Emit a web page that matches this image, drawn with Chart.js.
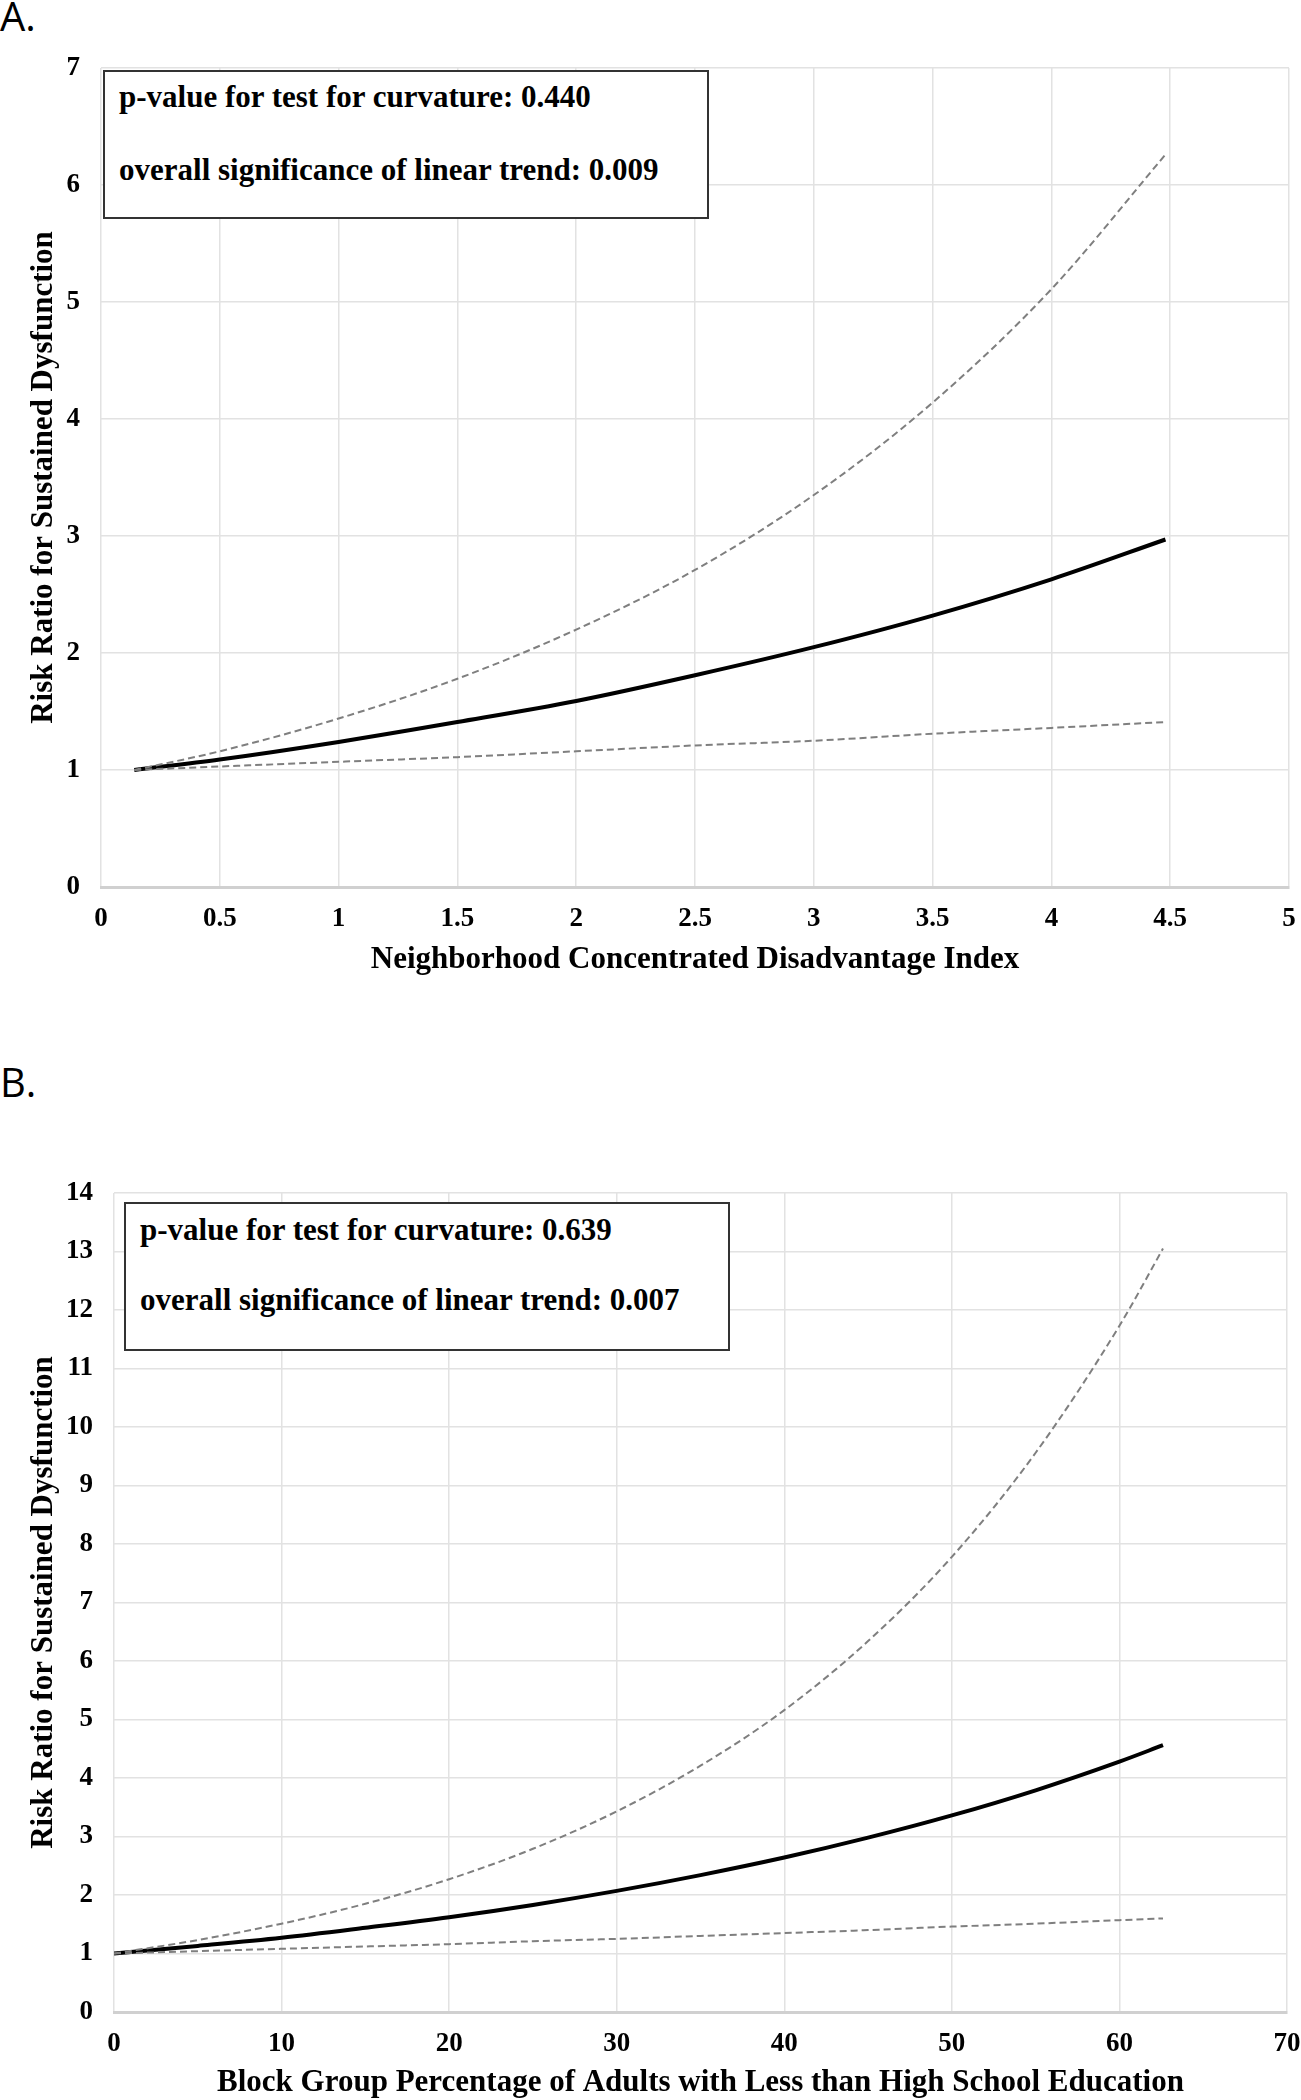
<!DOCTYPE html>
<html>
<head>
<meta charset="utf-8">
<script src="https://cdn.jsdelivr.net/npm/chart.js@4.4.1/dist/chart.umd.min.js"></script>
<style>
  body { margin: 0; background: #fff; }
  #page { position: relative; width: 1301px; height: 2100px; overflow: hidden; }
  canvas { position: absolute; left: 0; }
  .tag { position: absolute; left: 0; font-family: "Open Sans", sans-serif; font-size: 40px; line-height: 1; color: #000; }
  .note { position: absolute; box-sizing: border-box; background: #fff; border: 2px solid #333; }
  .note span { position: absolute; white-space: nowrap; font-family: "Liberation Serif", serif; font-weight: bold; font-size: 31px; line-height: 1; color: #000; }
</style>
</head>
<body>
<div id="page">
  <div class="tag" style="top:-4px">A.</div>
  <canvas id="chartA" width="1301" height="1000" style="top:0"></canvas>
  <div class="note" style="left:103px;top:70px;width:606px;height:149px">
    <span style="left:14px;top:9px">p-value for test for curvature: 0.440</span>
    <span style="left:14px;top:82px">overall significance of linear trend: 0.009</span>
  </div>

  <div class="tag" style="top:1062px">B.</div>
  <canvas id="chartB" width="1301" height="1000" style="top:1100px"></canvas>
  <div class="note" style="left:124px;top:1202px;width:606px;height:149px">
    <span style="left:14px;top:10px">p-value for test for curvature: 0.639</span>
    <span style="left:14px;top:80px">overall significance of linear trend: 0.007</span>
  </div>
</div>

<script>
// Panel A: neighborhood concentrated disadvantage index
const aIndex = [0.14, 0.5, 1, 1.5, 2, 2.5, 3, 3.5, 4, 4.48];
const aRisk  = [1.00, 1.09, 1.24, 1.41, 1.59, 1.81, 2.05, 2.32, 2.63, 2.97];
const aUpper = [1.00, 1.16, 1.44, 1.78, 2.20, 2.71, 3.35, 4.14, 5.11, 6.26];
const aLower = [1.00, 1.03, 1.07, 1.11, 1.16, 1.21, 1.25, 1.31, 1.36, 1.41];

// Panel B: % adults with less than high school education
const bPct   = [0, 5, 10, 15, 20, 25, 30, 35, 40, 45, 50, 55, 60, 62.6];
const bRisk  = [1.00, 1.13, 1.27, 1.44, 1.62, 1.83, 2.07, 2.34, 2.64, 2.98, 3.36, 3.79, 4.28, 4.56];
const bUpper = [1.00, 1.23, 1.51, 1.85, 2.27, 2.79, 3.43, 4.21, 5.16, 6.34, 7.78, 9.56, 11.73, 13.05];
const bLower = [1.00, 1.04, 1.08, 1.12, 1.16, 1.21, 1.25, 1.30, 1.35, 1.40, 1.46, 1.51, 1.57, 1.60];

const yTitle = "Risk Ratio for Sustained Dysfunction";

Chart.defaults.font.family = "'Liberation Serif', 'Times New Roman', serif";
Chart.defaults.font.weight = "bold";
Chart.defaults.color = "#000";

const pts = (xs, ys) => xs.map((x, i) => ({ x, y: ys[i] }));

function dashed(data) {
    return {
        data,
        borderColor: "#7f7f7f",
        borderWidth: 2,
        borderDash: [7, 4],
        pointRadius: 0,
        cubicInterpolationMode: "monotone"
    };
}

function drawPanel(id, cfg) {
    // eslint-disable-next-line no-new
    new Chart(document.getElementById(id), {
        type: "line",
        data: {
            datasets: [
                dashed(pts(cfg.xs, cfg.upper)),
                dashed(pts(cfg.xs, cfg.lower)),
                {
                    data: pts(cfg.xs, cfg.risk),
                    borderColor: "#000",
                    borderWidth: 4,
                    pointRadius: 0,
                    cubicInterpolationMode: "monotone"
                }
            ]
        },
        options: {
            responsive: false,
            animation: false,
            layout: { padding: { top: cfg.top, right: cfg.right, left: 0, bottom: 0 } },
            plugins: { legend: { display: false }, tooltip: { enabled: false } },
            scales: {
                x: {
                    type: "linear",
                    min: 0,
                    max: cfg.xMax,
                    ticks: {
                        stepSize: cfg.xStep,
                        padding: 16,
                        font: { size: 27 },
                        maxRotation: 0,
                        callback: v => String(v)
                    },
                    grid: { color: "#e2e2e2", lineWidth: 1.5, drawTicks: false },
                    border: { color: "#d0d0d0", width: 3 },
                    title: { display: true, text: cfg.xTitle, font: { size: 31 }, padding: { top: 0, bottom: cfg.xTitlePad } },
                    afterFit: s => {
                        s.height = cfg.xHeight;
                        // let the end labels hang over the plot edges
                        s.paddingLeft = 0;
                        s.paddingRight = 0;
                    }
                },
                y: {
                    min: 0,
                    max: cfg.yMax,
                    ticks: { stepSize: 1, padding: cfg.yTickPad, font: { size: 27 } },
                    grid: { color: "#e2e2e2", lineWidth: 1.5, drawTicks: false },
                    border: { display: false },
                    title: { display: true, text: yTitle, font: { size: 31 }, padding: { top: 25, bottom: 0 } },
                    afterFit: s => { s.width = cfg.yWidth; }
                }
            }
        }
    });
}

drawPanel("chartA", {
    xs: aIndex, risk: aRisk, upper: aUpper, lower: aLower,
    xMax: 5, xStep: 0.5, yMax: 7,
    xTitle: "Neighborhood Concentrated Disadvantage Index",
    top: 68, right: 12, xHeight: 113, yWidth: 101, yTickPad: 21, xTitlePad: 21
});

drawPanel("chartB", {
    xs: bPct, risk: bRisk, upper: bUpper, lower: bLower,
    xMax: 70, xStep: 10, yMax: 14,
    xTitle: "Block Group Percentage of Adults with Less than High School Education",
    top: 93, right: 14, xHeight: 88, yWidth: 114, yTickPad: 21, xTitlePad: -2
});
</script>
</body>
</html>
